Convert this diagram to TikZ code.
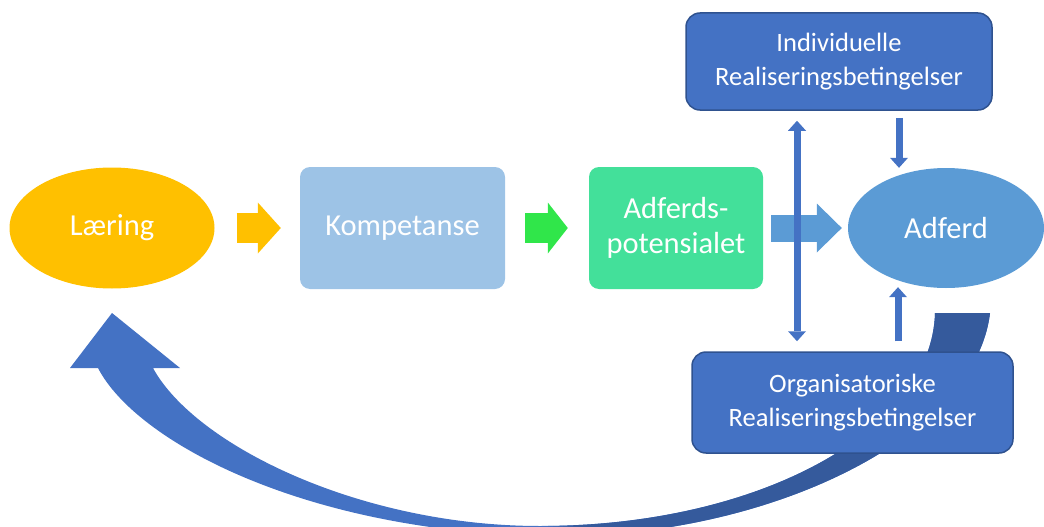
\documentclass[tikz,border=0pt]{standalone}
\usepackage{fontspec}
\setmainfont{Carlito}
\usetikzlibrary{arrows.meta,shapes.geometric}

\definecolor{gold}{HTML}{FFC000}
\definecolor{paleblue}{HTML}{9DC3E6}
\definecolor{brightgreen}{HTML}{30E64A}
\definecolor{mint}{HTML}{43E09A}
\definecolor{skyblue}{HTML}{5B9BD5}
\definecolor{royal}{HTML}{4472C4}
\definecolor{royaledge}{HTML}{2F528F}
\definecolor{royaldark}{HTML}{355A9C}

% outline of the wide feedback arrow (head at the left, tail at the right)
\newcommand\feedbackband{
  (112,313) -- (70,368) -- (98,368)
  .. controls (135,440) and (300,530) .. (540,536)
  .. controls (760,541.5) and (975,440) .. (990,313)
  -- (935,313)
  .. controls (932,430) and (760,526) .. (540,526)
  .. controls (360,526) and (195,445) .. (153,368)
  -- (180,368) -- cycle}

\begin{document}
\begin{tikzpicture}[x=1pt, y=-1pt,
  every node/.style={text=white, inner sep=0pt, align=center},
  bigtext/.style={font=\fontsize{30.5}{35}\selectfont},
  smalltext/.style={font=\fontsize{26.5}{34}\selectfont},
  oval/.style={ellipse, bigtext},
  softbox/.style={rounded corners=10pt, bigtext},
  condbox/.style={draw=royaledge, line width=1.5pt, fill=royal, rounded corners=14pt, smalltext},
  flowarrow/.style={line width=30pt, -{Triangle[length=23pt, width=51pt, line width=0pt]}},
  linkarrow/.style={line width=7pt, draw=royal, -{Triangle[length=10pt, width=18pt, line width=0pt]}},
  linkboth/.style={line width=7pt, draw=royal, {Triangle[length=10pt, width=18pt, line width=0pt]}-{Triangle[length=10pt, width=18pt, line width=0pt]}}
]
\useasboundingbox (0,0) rectangle (1044,527);

% feedback arrow, lighter front face and darker back face
\fill[royal] \feedbackband;
\foreach \i in {0,...,5} {
  \begin{scope}
    \clip (548+5*\i,250) rectangle (553+5*\i,560);
    \pgfmathtruncatemacro\mixpct{16*(\i+1)}
    \fill[royaldark!\mixpct!royal] \feedbackband;
  \end{scope}
}
\begin{scope}
  \clip (578,250) rectangle (1044,560);
  \fill[royaldark] \feedbackband;
\end{scope}

% main chain
\node[oval, fill=gold, minimum width=205pt, minimum height=121pt] (learn) at (112,228) {Læring};
\node[softbox, fill=paleblue, minimum width=205pt, minimum height=122pt] (comp) at (402.5,228) {Kompetanse};
\node[softbox, fill=mint, minimum width=174pt, minimum height=122pt] (pot) at (676,228) {Adferds-\\potensialet};
\node[oval, fill=skyblue, minimum width=196pt, minimum height=120pt] (beh) at (946,228) {Adferd};

% conditions
\node[condbox, minimum width=306pt, minimum height=97pt] (indiv) at (839,61.5) {Individuelle\\Realiseringsbetingelser};
\node[condbox, minimum width=321pt, minimum height=101pt] (org) at (852.5,402.5) {Organisatoriske\\Realiseringsbetingelser};

% block arrows between the stages
\draw[flowarrow, gold] ([xshift=22pt]learn.east) -- ([xshift=-19pt]comp.west);
\draw[flowarrow, brightgreen, -{Triangle[length=20pt, width=51pt, line width=0pt]}] ([xshift=20pt]comp.east) -- ([xshift=-21pt]pot.west);
\draw[flowarrow, skyblue, line width=27pt, -{Triangle[length=25pt, width=49pt, line width=0pt]}] ([xshift=8pt]pot.east) -- ([xshift=-6pt]beh.west);

% thin links
\coordinate (colboth) at (797,0);
\coordinate (coldown) at (899,0);
\coordinate (colup) at (898,0);
\draw[linkboth] ([yshift=-10pt]indiv.south -| colboth) -- ([yshift=10pt]org.north -| colboth);
\draw[linkarrow] ([yshift=-7pt]indiv.south -| coldown) -- (beh.north -| coldown);
\draw[linkarrow] ([yshift=10pt]org.north -| colup) -- ([yshift=1pt]beh.south -| colup);
\end{tikzpicture}
\end{document}
